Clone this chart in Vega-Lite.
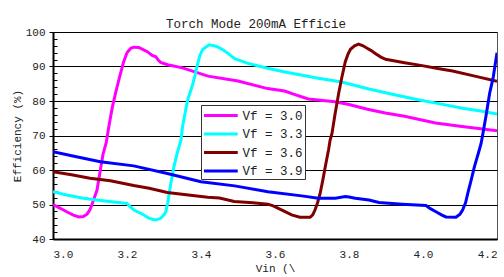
{
  "$schema": "https://vega.github.io/schema/vega-lite/v6.json",
  "width": 444,
  "height": 207,
  "autosize": {"type": "none"},
  "padding": {"left": 53, "top": 32, "right": 7, "bottom": 38},
  "background": "white",
  "title": {
    "text": "Torch Mode 200mA Efficie",
    "font": "Liberation Mono",
    "fontSize": 12.5,
    "fontWeight": "normal",
    "color": "#222",
    "anchor": "middle",
    "dx": -19,
    "offset": -4
  },
  "config": {
    "view": {"stroke": "#555", "strokeWidth": 1},
    "font": "Liberation Mono"
  },
  "data": {
    "values": [
      {"s": "Vf = 3.0", "vin": 3.000, "eff": 50.0},
      {"s": "Vf = 3.0", "vin": 3.020, "eff": 48.9},
      {"s": "Vf = 3.0", "vin": 3.037, "eff": 47.9},
      {"s": "Vf = 3.0", "vin": 3.055, "eff": 46.9},
      {"s": "Vf = 3.0", "vin": 3.070, "eff": 46.4},
      {"s": "Vf = 3.0", "vin": 3.082, "eff": 46.5},
      {"s": "Vf = 3.0", "vin": 3.092, "eff": 47.2},
      {"s": "Vf = 3.0", "vin": 3.100, "eff": 48.5},
      {"s": "Vf = 3.0", "vin": 3.105, "eff": 49.9},
      {"s": "Vf = 3.0", "vin": 3.112, "eff": 52.0},
      {"s": "Vf = 3.0", "vin": 3.119, "eff": 54.2},
      {"s": "Vf = 3.0", "vin": 3.128, "eff": 60.0},
      {"s": "Vf = 3.0", "vin": 3.135, "eff": 64.5},
      {"s": "Vf = 3.0", "vin": 3.144, "eff": 68.0},
      {"s": "Vf = 3.0", "vin": 3.150, "eff": 72.0},
      {"s": "Vf = 3.0", "vin": 3.160, "eff": 78.0},
      {"s": "Vf = 3.0", "vin": 3.169, "eff": 82.3},
      {"s": "Vf = 3.0", "vin": 3.180, "eff": 87.0},
      {"s": "Vf = 3.0", "vin": 3.191, "eff": 91.4},
      {"s": "Vf = 3.0", "vin": 3.200, "eff": 94.0},
      {"s": "Vf = 3.0", "vin": 3.210, "eff": 95.3},
      {"s": "Vf = 3.0", "vin": 3.218, "eff": 95.6},
      {"s": "Vf = 3.0", "vin": 3.232, "eff": 95.5},
      {"s": "Vf = 3.0", "vin": 3.245, "eff": 94.8},
      {"s": "Vf = 3.0", "vin": 3.255, "eff": 94.3},
      {"s": "Vf = 3.0", "vin": 3.268, "eff": 93.2},
      {"s": "Vf = 3.0", "vin": 3.278, "eff": 92.8},
      {"s": "Vf = 3.0", "vin": 3.285, "eff": 91.8},
      {"s": "Vf = 3.0", "vin": 3.291, "eff": 91.2},
      {"s": "Vf = 3.0", "vin": 3.310, "eff": 90.5},
      {"s": "Vf = 3.0", "vin": 3.350, "eff": 89.6},
      {"s": "Vf = 3.0", "vin": 3.419, "eff": 87.2},
      {"s": "Vf = 3.0", "vin": 3.500, "eff": 85.8},
      {"s": "Vf = 3.0", "vin": 3.580, "eff": 83.6},
      {"s": "Vf = 3.0", "vin": 3.626, "eff": 82.9},
      {"s": "Vf = 3.0", "vin": 3.650, "eff": 82.0},
      {"s": "Vf = 3.0", "vin": 3.690, "eff": 80.6},
      {"s": "Vf = 3.0", "vin": 3.762, "eff": 79.8},
      {"s": "Vf = 3.0", "vin": 3.800, "eff": 79.0},
      {"s": "Vf = 3.0", "vin": 3.850, "eff": 77.6},
      {"s": "Vf = 3.0", "vin": 3.898, "eff": 76.5},
      {"s": "Vf = 3.0", "vin": 3.950, "eff": 75.6},
      {"s": "Vf = 3.0", "vin": 4.034, "eff": 73.6},
      {"s": "Vf = 3.0", "vin": 4.100, "eff": 72.7},
      {"s": "Vf = 3.0", "vin": 4.200, "eff": 71.4},

      {"s": "Vf = 3.3", "vin": 3.000, "eff": 53.7},
      {"s": "Vf = 3.3", "vin": 3.040, "eff": 52.7},
      {"s": "Vf = 3.3", "vin": 3.082, "eff": 51.8},
      {"s": "Vf = 3.3", "vin": 3.140, "eff": 51.0},
      {"s": "Vf = 3.3", "vin": 3.200, "eff": 50.3},
      {"s": "Vf = 3.3", "vin": 3.210, "eff": 49.2},
      {"s": "Vf = 3.3", "vin": 3.219, "eff": 48.4},
      {"s": "Vf = 3.3", "vin": 3.240, "eff": 47.3},
      {"s": "Vf = 3.3", "vin": 3.255, "eff": 46.3},
      {"s": "Vf = 3.3", "vin": 3.268, "eff": 45.7},
      {"s": "Vf = 3.3", "vin": 3.278, "eff": 45.5},
      {"s": "Vf = 3.3", "vin": 3.291, "eff": 46.0},
      {"s": "Vf = 3.3", "vin": 3.300, "eff": 47.0},
      {"s": "Vf = 3.3", "vin": 3.305, "eff": 47.9},
      {"s": "Vf = 3.3", "vin": 3.310, "eff": 50.5},
      {"s": "Vf = 3.3", "vin": 3.314, "eff": 53.2},
      {"s": "Vf = 3.3", "vin": 3.320, "eff": 57.0},
      {"s": "Vf = 3.3", "vin": 3.327, "eff": 61.0},
      {"s": "Vf = 3.3", "vin": 3.336, "eff": 65.0},
      {"s": "Vf = 3.3", "vin": 3.346, "eff": 68.7},
      {"s": "Vf = 3.3", "vin": 3.350, "eff": 72.5},
      {"s": "Vf = 3.3", "vin": 3.357, "eff": 76.5},
      {"s": "Vf = 3.3", "vin": 3.364, "eff": 80.3},
      {"s": "Vf = 3.3", "vin": 3.377, "eff": 84.6},
      {"s": "Vf = 3.3", "vin": 3.384, "eff": 87.5},
      {"s": "Vf = 3.3", "vin": 3.390, "eff": 90.4},
      {"s": "Vf = 3.3", "vin": 3.398, "eff": 93.5},
      {"s": "Vf = 3.3", "vin": 3.405, "eff": 95.0},
      {"s": "Vf = 3.3", "vin": 3.422, "eff": 96.3},
      {"s": "Vf = 3.3", "vin": 3.435, "eff": 96.0},
      {"s": "Vf = 3.3", "vin": 3.445, "eff": 95.7},
      {"s": "Vf = 3.3", "vin": 3.460, "eff": 94.8},
      {"s": "Vf = 3.3", "vin": 3.473, "eff": 93.8},
      {"s": "Vf = 3.3", "vin": 3.482, "eff": 93.0},
      {"s": "Vf = 3.3", "vin": 3.491, "eff": 92.3},
      {"s": "Vf = 3.3", "vin": 3.527, "eff": 90.9},
      {"s": "Vf = 3.3", "vin": 3.580, "eff": 89.5},
      {"s": "Vf = 3.3", "vin": 3.627, "eff": 88.4},
      {"s": "Vf = 3.3", "vin": 3.717, "eff": 86.6},
      {"s": "Vf = 3.3", "vin": 3.780, "eff": 85.5},
      {"s": "Vf = 3.3", "vin": 3.854, "eff": 83.5},
      {"s": "Vf = 3.3", "vin": 3.920, "eff": 81.9},
      {"s": "Vf = 3.3", "vin": 3.990, "eff": 80.3},
      {"s": "Vf = 3.3", "vin": 4.050, "eff": 79.1},
      {"s": "Vf = 3.3", "vin": 4.107, "eff": 77.9},
      {"s": "Vf = 3.3", "vin": 4.160, "eff": 77.0},
      {"s": "Vf = 3.3", "vin": 4.200, "eff": 76.2},

      {"s": "Vf = 3.6", "vin": 3.000, "eff": 59.5},
      {"s": "Vf = 3.6", "vin": 3.050, "eff": 58.6},
      {"s": "Vf = 3.6", "vin": 3.100, "eff": 57.6},
      {"s": "Vf = 3.6", "vin": 3.155, "eff": 56.9},
      {"s": "Vf = 3.6", "vin": 3.218, "eff": 55.5},
      {"s": "Vf = 3.6", "vin": 3.260, "eff": 54.7},
      {"s": "Vf = 3.6", "vin": 3.309, "eff": 53.5},
      {"s": "Vf = 3.6", "vin": 3.360, "eff": 52.8},
      {"s": "Vf = 3.6", "vin": 3.418, "eff": 52.1},
      {"s": "Vf = 3.6", "vin": 3.450, "eff": 51.9},
      {"s": "Vf = 3.6", "vin": 3.490, "eff": 50.9},
      {"s": "Vf = 3.6", "vin": 3.540, "eff": 50.5},
      {"s": "Vf = 3.6", "vin": 3.581, "eff": 50.1},
      {"s": "Vf = 3.6", "vin": 3.595, "eff": 49.6},
      {"s": "Vf = 3.6", "vin": 3.609, "eff": 48.9},
      {"s": "Vf = 3.6", "vin": 3.630, "eff": 47.8},
      {"s": "Vf = 3.6", "vin": 3.645, "eff": 47.0},
      {"s": "Vf = 3.6", "vin": 3.667, "eff": 46.3},
      {"s": "Vf = 3.6", "vin": 3.695, "eff": 46.3},
      {"s": "Vf = 3.6", "vin": 3.702, "eff": 47.0},
      {"s": "Vf = 3.6", "vin": 3.708, "eff": 48.4},
      {"s": "Vf = 3.6", "vin": 3.715, "eff": 50.5},
      {"s": "Vf = 3.6", "vin": 3.722, "eff": 53.2},
      {"s": "Vf = 3.6", "vin": 3.730, "eff": 57.5},
      {"s": "Vf = 3.6", "vin": 3.736, "eff": 61.0},
      {"s": "Vf = 3.6", "vin": 3.745, "eff": 66.0},
      {"s": "Vf = 3.6", "vin": 3.749, "eff": 68.7},
      {"s": "Vf = 3.6", "vin": 3.754, "eff": 70.6},
      {"s": "Vf = 3.6", "vin": 3.762, "eff": 76.0},
      {"s": "Vf = 3.6", "vin": 3.772, "eff": 82.2},
      {"s": "Vf = 3.6", "vin": 3.780, "eff": 86.5},
      {"s": "Vf = 3.6", "vin": 3.790, "eff": 91.4},
      {"s": "Vf = 3.6", "vin": 3.797, "eff": 93.5},
      {"s": "Vf = 3.6", "vin": 3.804, "eff": 95.0},
      {"s": "Vf = 3.6", "vin": 3.815, "eff": 96.0},
      {"s": "Vf = 3.6", "vin": 3.826, "eff": 96.5},
      {"s": "Vf = 3.6", "vin": 3.838, "eff": 96.0},
      {"s": "Vf = 3.6", "vin": 3.849, "eff": 95.3},
      {"s": "Vf = 3.6", "vin": 3.860, "eff": 94.6},
      {"s": "Vf = 3.6", "vin": 3.871, "eff": 93.8},
      {"s": "Vf = 3.6", "vin": 3.885, "eff": 92.8},
      {"s": "Vf = 3.6", "vin": 3.899, "eff": 92.1},
      {"s": "Vf = 3.6", "vin": 3.950, "eff": 91.1},
      {"s": "Vf = 3.6", "vin": 3.990, "eff": 90.4},
      {"s": "Vf = 3.6", "vin": 4.040, "eff": 89.4},
      {"s": "Vf = 3.6", "vin": 4.080, "eff": 88.7},
      {"s": "Vf = 3.6", "vin": 4.140, "eff": 87.2},
      {"s": "Vf = 3.6", "vin": 4.200, "eff": 85.7},

      {"s": "Vf = 3.9", "vin": 3.000, "eff": 65.3},
      {"s": "Vf = 3.9", "vin": 3.060, "eff": 63.9},
      {"s": "Vf = 3.9", "vin": 3.128, "eff": 62.4},
      {"s": "Vf = 3.9", "vin": 3.218, "eff": 61.2},
      {"s": "Vf = 3.9", "vin": 3.309, "eff": 59.0},
      {"s": "Vf = 3.9", "vin": 3.400, "eff": 56.6},
      {"s": "Vf = 3.9", "vin": 3.491, "eff": 55.4},
      {"s": "Vf = 3.9", "vin": 3.581, "eff": 53.7},
      {"s": "Vf = 3.9", "vin": 3.672, "eff": 52.5},
      {"s": "Vf = 3.9", "vin": 3.717, "eff": 51.8},
      {"s": "Vf = 3.9", "vin": 3.763, "eff": 51.8},
      {"s": "Vf = 3.9", "vin": 3.790, "eff": 52.3},
      {"s": "Vf = 3.9", "vin": 3.800, "eff": 52.2},
      {"s": "Vf = 3.9", "vin": 3.817, "eff": 51.8},
      {"s": "Vf = 3.9", "vin": 3.854, "eff": 51.3},
      {"s": "Vf = 3.9", "vin": 3.881, "eff": 50.6},
      {"s": "Vf = 3.9", "vin": 3.944, "eff": 50.1},
      {"s": "Vf = 3.9", "vin": 4.008, "eff": 49.7},
      {"s": "Vf = 3.9", "vin": 4.020, "eff": 48.8},
      {"s": "Vf = 3.9", "vin": 4.035, "eff": 47.9},
      {"s": "Vf = 3.9", "vin": 4.050, "eff": 47.0},
      {"s": "Vf = 3.9", "vin": 4.062, "eff": 46.4},
      {"s": "Vf = 3.9", "vin": 4.089, "eff": 46.3},
      {"s": "Vf = 3.9", "vin": 4.100, "eff": 47.2},
      {"s": "Vf = 3.9", "vin": 4.107, "eff": 48.4},
      {"s": "Vf = 3.9", "vin": 4.115, "eff": 50.5},
      {"s": "Vf = 3.9", "vin": 4.121, "eff": 53.2},
      {"s": "Vf = 3.9", "vin": 4.130, "eff": 57.0},
      {"s": "Vf = 3.9", "vin": 4.139, "eff": 61.0},
      {"s": "Vf = 3.9", "vin": 4.150, "eff": 65.0},
      {"s": "Vf = 3.9", "vin": 4.157, "eff": 67.7},
      {"s": "Vf = 3.9", "vin": 4.162, "eff": 70.6},
      {"s": "Vf = 3.9", "vin": 4.170, "eff": 75.5},
      {"s": "Vf = 3.9", "vin": 4.180, "eff": 82.2},
      {"s": "Vf = 3.9", "vin": 4.190, "eff": 87.0},
      {"s": "Vf = 3.9", "vin": 4.200, "eff": 94.0}
    ]
  },
  "mark": {"type": "line", "strokeWidth": 3, "clip": true},
  "encoding": {
    "x": {
      "field": "vin",
      "type": "quantitative",
      "scale": {"domain": [3.0, 4.2], "nice": false, "zero": false},
      "axis": {
        "title": "Vin (\\",
        "values": [3.0, 3.2, 3.4, 3.6, 3.8, 4.0, 4.2],
        "format": ".1f",
        "grid": false,
        "ticks": false,
        "labelPadding": 9,
        "labelFont": "Liberation Mono",
        "labelFontSize": 11,
        "labelColor": "#222",
        "domainColor": "#000",
        "domainWidth": 2,
        "titleFont": "Liberation Mono",
        "titleFontSize": 11,
        "titleFontWeight": "normal",
        "titleColor": "#222",
        "titlePadding": 3
      }
    },
    "y": {
      "field": "eff",
      "type": "quantitative",
      "scale": {"domain": [40, 100], "nice": false, "zero": false},
      "axis": {
        "title": "Efficiency (%)",
        "values": [40, 42, 44, 46, 48, 50, 52, 54, 56, 58, 60, 62, 64, 66, 68, 70, 72, 74, 76, 78, 80, 82, 84, 86, 88, 90, 92, 94, 96, 98, 100],
        "labelExpr": "datum.value % 10 === 0 ? datum.label : ''",
        "grid": true,
        "gridColor": "#000",
        "gridWidth": 1,
        "gridOpacity": {"condition": {"test": "datum.value % 10 === 0", "value": 1}, "value": 0},
        "tickColor": "#000",
        "tickWidth": 1,
        "tickSize": {"condition": {"test": "datum.value % 10 === 0", "value": 4}, "value": -4},
        "labelPadding": 4,
        "labelFont": "Liberation Mono",
        "labelFontSize": 11,
        "labelColor": "#222",
        "domainColor": "#000",
        "domainWidth": 2,
        "titleFont": "Liberation Mono",
        "titleFontSize": 11,
        "titleFontWeight": "normal",
        "titleColor": "#222",
        "titlePadding": 3
      }
    },
    "color": {
      "field": "s",
      "type": "nominal",
      "scale": {
        "domain": ["Vf = 3.0", "Vf = 3.3", "Vf = 3.6", "Vf = 3.9"],
        "range": ["#ff00ff", "#00ffff", "#800000", "#0000ff"]
      },
      "legend": {
        "title": null,
        "orient": "none",
        "legendX": 148,
        "legendY": 73,
        "symbolType": "M-1,0H3.5",
        "symbolSize": 225,
        "symbolStrokeWidth": 3,
        "labelFont": "Liberation Mono",
        "labelFontSize": 12.5,
        "labelColor": "#222",
        "labelOffset": 22,
        "rowPadding": 2.5,
        "padding": 1.5,
        "strokeColor": "#333",
        "fillColor": "white"
      }
    }
  }
}
